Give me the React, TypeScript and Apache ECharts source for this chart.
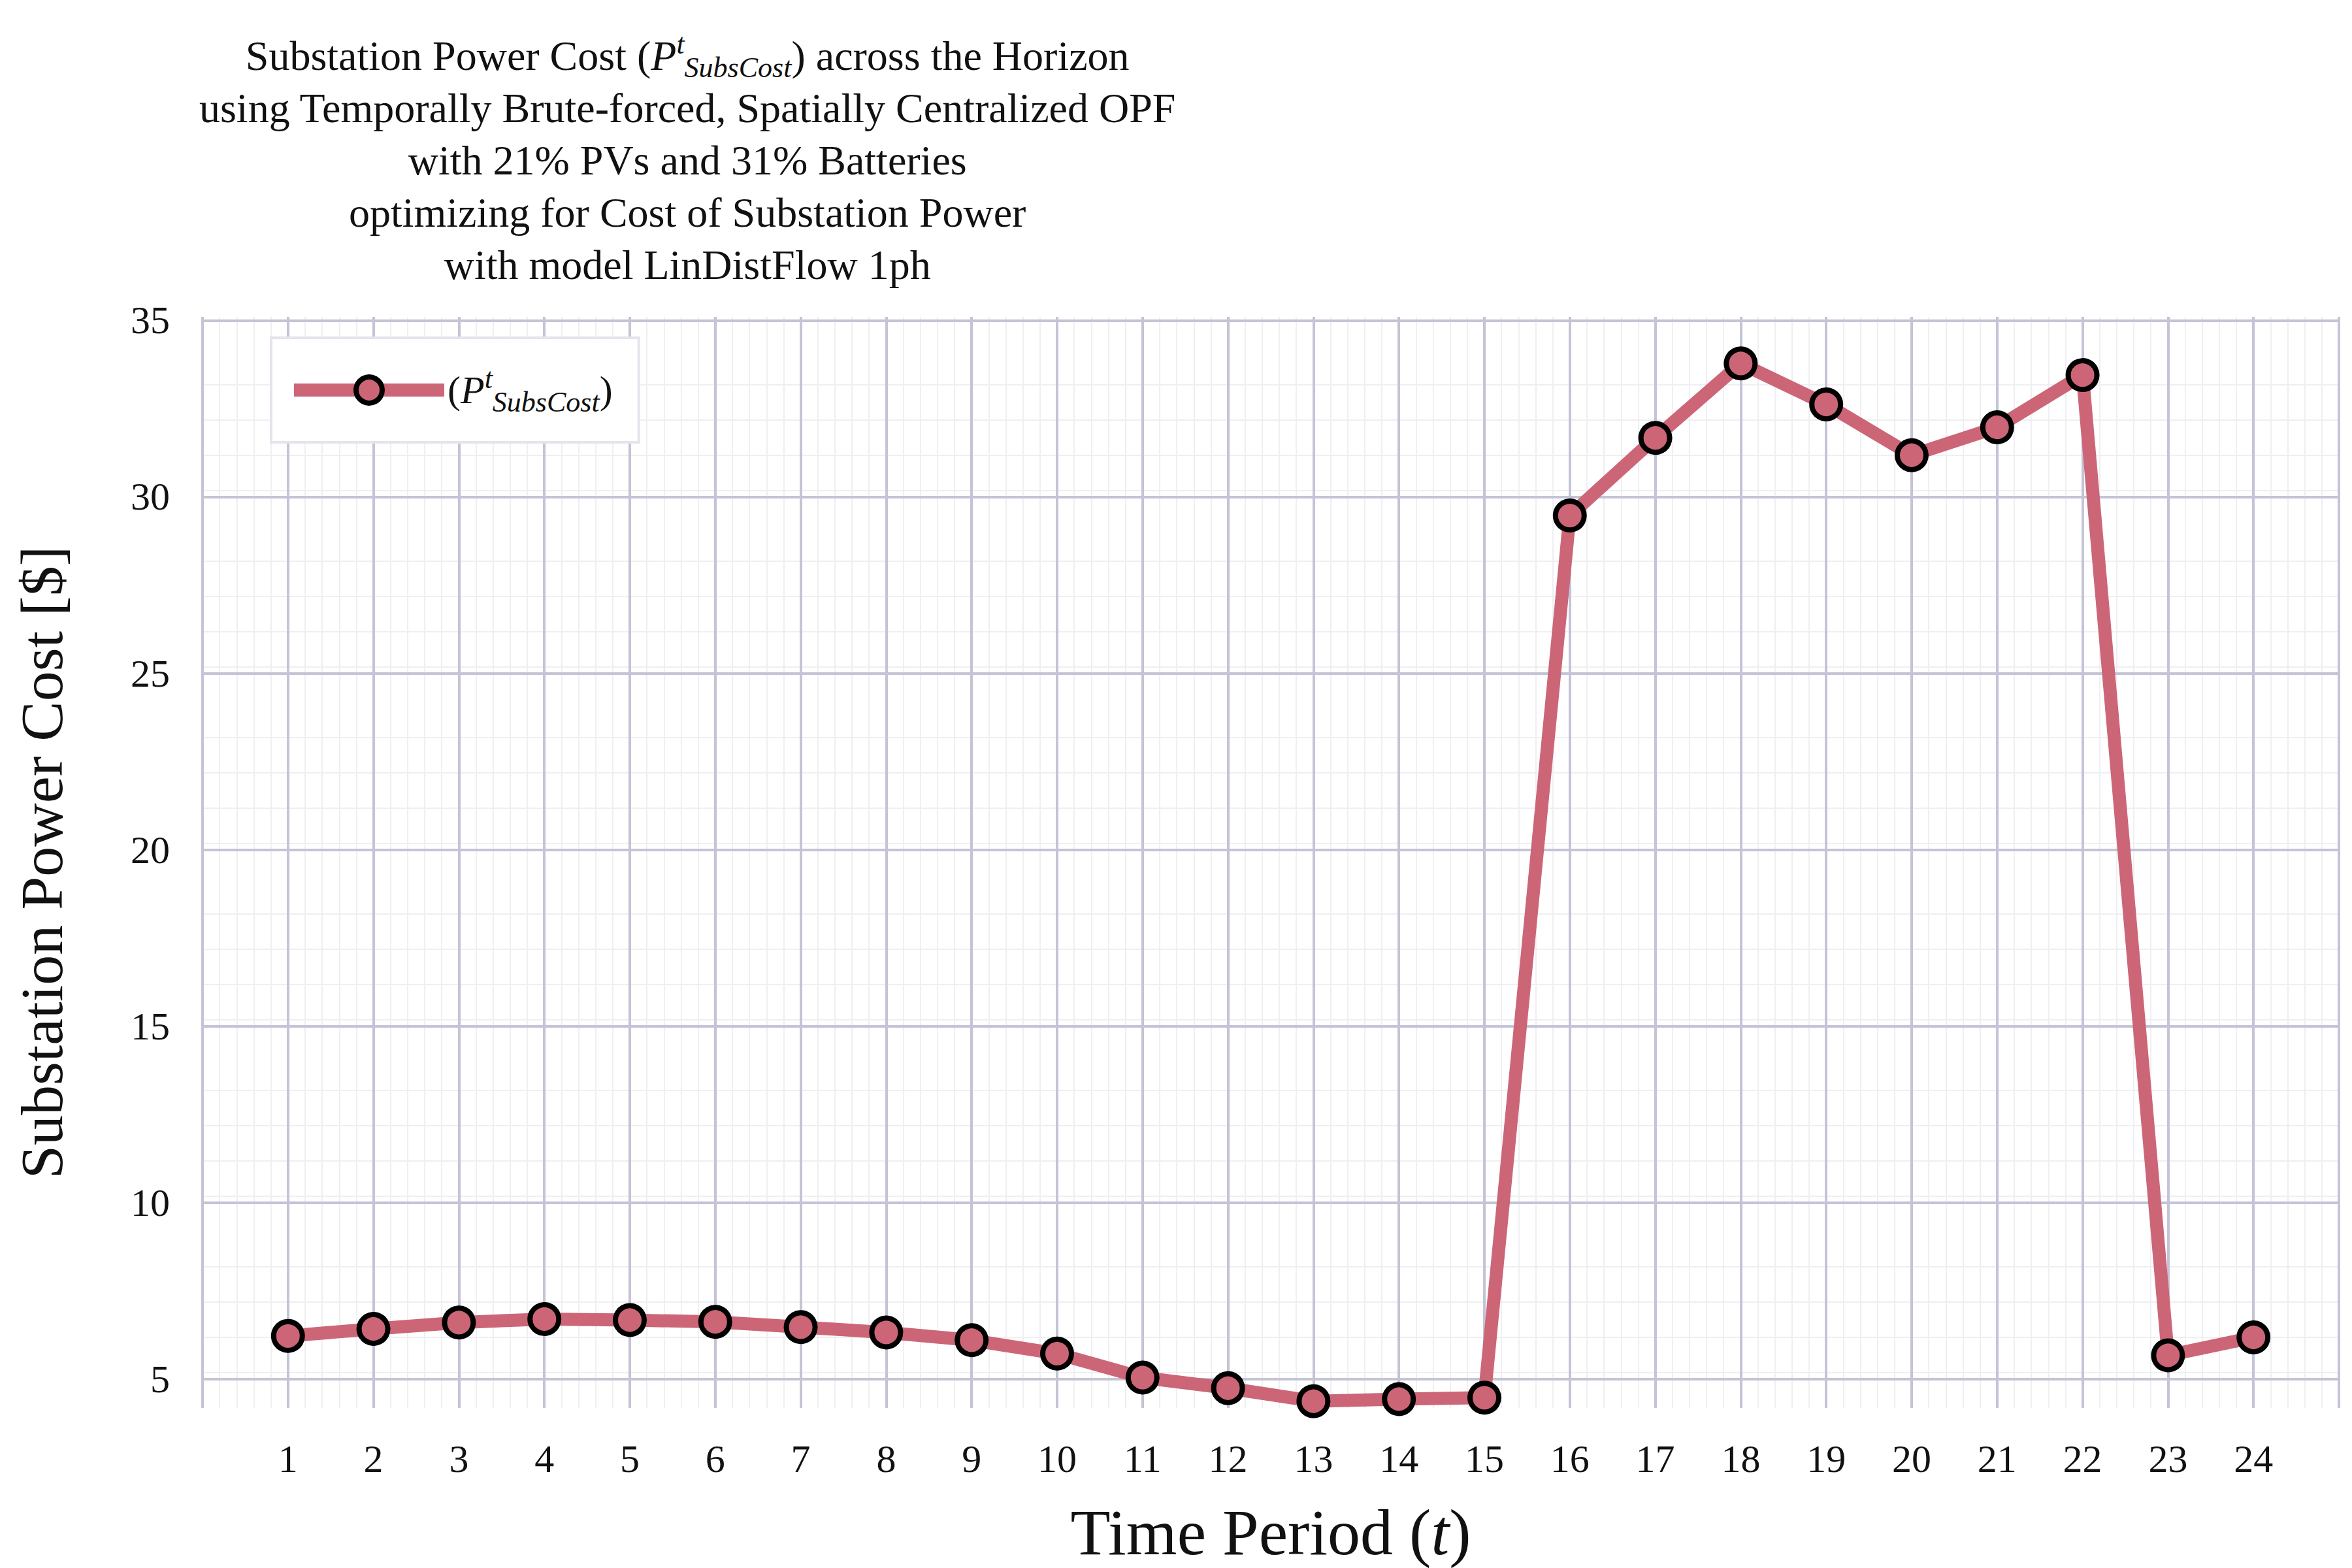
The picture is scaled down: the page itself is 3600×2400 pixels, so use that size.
import React, { useEffect, useRef } from "react";
import * as echarts from "echarts";

const periods = Array.from({ length: 24 }, (_, i) => i + 1);
const costValues = [
  6.22, 6.42, 6.6, 6.7, 6.67, 6.62, 6.47, 6.32, 6.1, 5.72, 5.04, 4.74, 4.37, 4.43,
  4.47, 29.47, 31.67, 33.78, 32.62, 31.18, 31.97, 33.45, 5.67, 6.18,
];
const yTicks = [5, 10, 15, 20, 25, 30, 35];
const subtitleLines = [
  "using Temporally Brute-forced, Spatially Centralized OPF",
  "with 21% PVs and 31% Batteries",
  "optimizing for Cost of Substation Power",
  "with model LinDistFlow 1ph",
];

const FONT = "Liberation Serif";
const LINE = "#cc6677";
const MAJOR = "#c4c4d6";
const MINOR = "#efeff3";

const App = () => {
  const chartRef = useRef<HTMLDivElement>(null);

  useEffect(() => {
    document.body.style.margin = "0";
    if (!chartRef.current) return;
    const chart = echarts.init(chartRef.current, undefined, { renderer: "svg" });
    const base = { fontFamily: FONT, fontWeight: "normal", color: "#111" };
    const mathRich = {
      n: { ...base, fontSize: 64, lineHeight: 80 },
      i: { ...base, fontSize: 64, fontStyle: "italic", lineHeight: 80 },
      sup: { ...base, fontSize: 44, fontStyle: "italic", verticalAlign: "top", padding: [0, 0, 30, 0] },
      sub: { ...base, fontSize: 44, fontStyle: "italic", verticalAlign: "bottom", padding: [30, 0, 0, 0] },
    };
    chart.setOption({
      animation: false,
      backgroundColor: "#fff",
      title: {
        text:
          "{n|Substation Power Cost (}{i|P}{sup|t}{sub|SubsCost}{n|) across the Horizon}\n" +
          subtitleLines.map((l) => `{n|${l}}`).join("\n"),
        left: "center",
        top: 40,
        textAlign: "center",
        textStyle: { ...base, fontSize: 64, lineHeight: 80, rich: mathRich },
      },
      grid: { left: 310, right: 20, top: 485, bottom: 245 },
      legend: {
        left: 415,
        top: 517,
        orient: "vertical",
        backgroundColor: "#fff",
        borderColor: "#e4e4ec",
        borderWidth: 4,
        padding: [40, 40, 40, 25],
        itemWidth: 230,
        itemHeight: 50,
        itemGap: 0,
        lineStyle: { width: 20, color: LINE },
        itemStyle: { color: LINE, borderColor: "#000", borderWidth: 8 },
        formatter: () => "{n|(}{i|P}{sup|t}{sub|SubsCost}{n|)}",
        textStyle: { rich: { ...mathRich, n: { ...mathRich.n, fontSize: 60 }, i: { ...mathRich.i, fontSize: 60 } } },
        data: ["cost"],
      },
      xAxis: {
        type: "value",
        min: 0,
        max: 25,
        interval: 1,
        name: "{a|Time Period (}{b|t}{a|)}",
        nameLocation: "middle",
        nameGap: 140,
        nameTextStyle: {
          rich: {
            a: { ...base, fontSize: 100 },
            b: { ...base, fontSize: 100, fontStyle: "italic" },
          },
        },
        axisLine: { show: false },
        axisTick: { show: false },
        axisLabel: {
          margin: 48,
          fontFamily: FONT,
          fontSize: 60,
          color: "#111",
          formatter: (v: number) => (periods.includes(v) ? String(v) : ""),
        },
        splitLine: { show: true, lineStyle: { color: MAJOR, width: 4 } },
        minorTick: { show: false, splitNumber: 5 },
        minorSplitLine: { show: true, lineStyle: { color: MINOR, width: 2 } },
      },
      yAxis: {
        type: "value",
        min: 4.18,
        max: 35.1,
        interval: 5,
        name: "Substation Power Cost [$]",
        nameLocation: "middle",
        nameGap: 200,
        nameTextStyle: { fontFamily: FONT, fontSize: 92, color: "#111" },
        axisLine: { show: false },
        axisTick: { show: false },
        axisLabel: {
          margin: 50,
          fontFamily: FONT,
          fontSize: 60,
          color: "#111",
          customValues: yTicks,
        },
        splitLine: { show: false },
        minorTick: { show: false, splitNumber: 5 },
        minorSplitLine: { show: true, lineStyle: { color: MINOR, width: 2 } },
      },
      series: [
        {
          name: "cost",
          type: "line",
          data: periods.map((p, i) => [p, costValues[i]]),
          lineStyle: { color: LINE, width: 20 },
          itemStyle: { color: LINE, borderColor: "#000", borderWidth: 8 },
          symbol: "circle",
          symbolSize: 44,
          z: 5,
          markLine: {
            silent: true,
            symbol: "none",
            label: { show: false },
            lineStyle: { color: MAJOR, width: 4, type: "solid" },
            z: 1,
            data: yTicks.map((v) => ({ yAxis: v })),
          },
        },
      ],
    });
    return () => chart.dispose();
  }, []);

  return <div ref={chartRef} style={{ width: 3600, height: 2400 }} />;
};

export default App;
